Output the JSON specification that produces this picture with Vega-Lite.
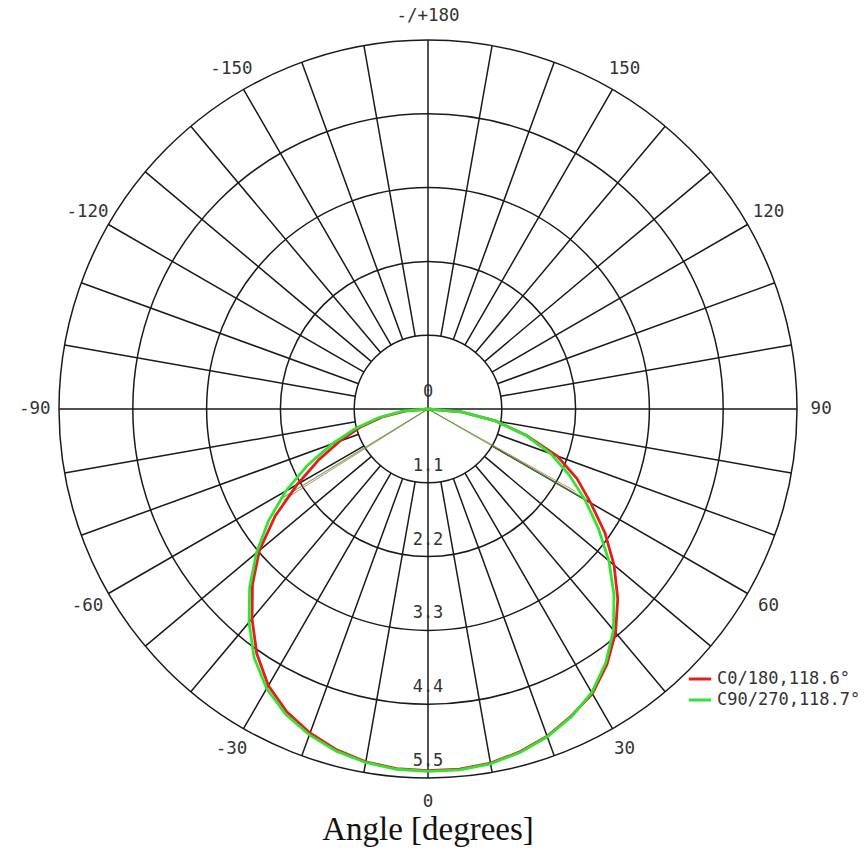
{
  "$schema": "https://vega.github.io/schema/vega-lite/v6.json",
  "width": 738,
  "height": 738,
  "autosize": {"type": "none"},
  "padding": {"left": 59, "top": 40, "right": 69, "bottom": 80},
  "background": "white",
  "config": {"view": {"stroke": null}},
  "title": {"text": "Angle [degrees]", "orient": "bottom", "font": "Liberation Serif", "fontSize": 33, "fontWeight": "normal", "color": "#111111", "offset": 3, "anchor": "middle"},
  "datasets": {
    "rings": [{"v": 1.1}, {"v": 2.2}, {"v": 3.3}, {"v": 4.4}, {"v": 5.5}],
    "ringlabels": [{"v": 0, "label": "0"}, {"v": 1.1, "label": "1.1"}, {"v": 2.2, "label": "2.2"}, {"v": 3.3, "label": "3.3"}, {"v": 4.4, "label": "4.4"}, {"v": 5.5, "label": "5.5"}],
    "spokes": [{"a": -170}, {"a": -160}, {"a": -150}, {"a": -140}, {"a": -130}, {"a": -120}, {"a": -110}, {"a": -100}, {"a": -80}, {"a": -70}, {"a": -60}, {"a": -50}, {"a": -40}, {"a": -30}, {"a": -20}, {"a": -10}, {"a": 10}, {"a": 20}, {"a": 30}, {"a": 40}, {"a": 50}, {"a": 60}, {"a": 70}, {"a": 80}, {"a": 100}, {"a": 110}, {"a": 120}, {"a": 130}, {"a": 140}, {"a": 150}, {"a": 160}, {"a": 170}],
    "diameters": [{"a": 0}, {"a": 90}, {"a": 180}, {"a": -90}],
    "anglelabels": [{"a": 0, "label": "0"}, {"a": 30, "label": "30"}, {"a": 60, "label": "60"}, {"a": 90, "label": "90"}, {"a": 120, "label": "120"}, {"a": 150, "label": "150"}, {"a": 180, "label": "-/+180"}, {"a": -150, "label": "-150"}, {"a": -120, "label": "-120"}, {"a": -90, "label": "-90"}, {"a": -60, "label": "-60"}, {"a": -30, "label": "-30"}],
    "beams": [
      {"series": "C0/180,118.6°", "i": 0, "theta": -57.8, "r": 2.55},
      {"series": "C0/180,118.6°", "i": 1, "theta": 0, "r": 0},
      {"series": "C0/180,118.6°", "i": 2, "theta": 60.8, "r": 2.52},
      {"series": "C90/270,118.7°", "i": 0, "theta": -58.6, "r": 2.58},
      {"series": "C90/270,118.7°", "i": 1, "theta": 0, "r": 0},
      {"series": "C90/270,118.7°", "i": 2, "theta": 60.1, "r": 2.68}
    ],
    "curves": [
      {"series": "C0/180,118.6°", "theta": -90, "r": 0},
      {"series": "C0/180,118.6°", "theta": -85, "r": 0.35},
      {"series": "C0/180,118.6°", "theta": -80, "r": 0.70},
      {"series": "C0/180,118.6°", "theta": -75, "r": 1.05},
      {"series": "C0/180,118.6°", "theta": -70, "r": 1.40},
      {"series": "C0/180,118.6°", "theta": -65, "r": 1.80},
      {"series": "C0/180,118.6°", "theta": -60, "r": 2.25},
      {"series": "C0/180,118.6°", "theta": -55, "r": 2.78},
      {"series": "C0/180,118.6°", "theta": -50, "r": 3.28},
      {"series": "C0/180,118.6°", "theta": -45, "r": 3.70},
      {"series": "C0/180,118.6°", "theta": -40, "r": 4.08},
      {"series": "C0/180,118.6°", "theta": -35, "r": 4.45},
      {"series": "C0/180,118.6°", "theta": -30, "r": 4.76},
      {"series": "C0/180,118.6°", "theta": -25, "r": 4.98},
      {"series": "C0/180,118.6°", "theta": -20, "r": 5.14},
      {"series": "C0/180,118.6°", "theta": -15, "r": 5.26},
      {"series": "C0/180,118.6°", "theta": -10, "r": 5.34},
      {"series": "C0/180,118.6°", "theta": -5, "r": 5.38},
      {"series": "C0/180,118.6°", "theta": 0, "r": 5.39},
      {"series": "C0/180,118.6°", "theta": 5, "r": 5.39},
      {"series": "C0/180,118.6°", "theta": 10, "r": 5.36},
      {"series": "C0/180,118.6°", "theta": 15, "r": 5.29},
      {"series": "C0/180,118.6°", "theta": 20, "r": 5.19},
      {"series": "C0/180,118.6°", "theta": 25, "r": 5.05},
      {"series": "C0/180,118.6°", "theta": 30, "r": 4.90},
      {"series": "C0/180,118.6°", "theta": 35, "r": 4.65},
      {"series": "C0/180,118.6°", "theta": 40, "r": 4.35},
      {"series": "C0/180,118.6°", "theta": 45, "r": 4.00},
      {"series": "C0/180,118.6°", "theta": 50, "r": 3.62},
      {"series": "C0/180,118.6°", "theta": 55, "r": 3.22},
      {"series": "C0/180,118.6°", "theta": 60, "r": 2.80},
      {"series": "C0/180,118.6°", "theta": 65, "r": 2.45},
      {"series": "C0/180,118.6°", "theta": 70, "r": 2.05},
      {"series": "C0/180,118.6°", "theta": 75, "r": 1.52},
      {"series": "C0/180,118.6°", "theta": 80, "r": 1.02},
      {"series": "C0/180,118.6°", "theta": 85, "r": 0.50},
      {"series": "C0/180,118.6°", "theta": 90, "r": 0},
      {"series": "C90/270,118.7°", "theta": -90, "r": 0},
      {"series": "C90/270,118.7°", "theta": -85, "r": 0.38},
      {"series": "C90/270,118.7°", "theta": -80, "r": 0.75},
      {"series": "C90/270,118.7°", "theta": -75, "r": 1.12},
      {"series": "C90/270,118.7°", "theta": -70, "r": 1.52},
      {"series": "C90/270,118.7°", "theta": -65, "r": 1.98},
      {"series": "C90/270,118.7°", "theta": -60, "r": 2.45},
      {"series": "C90/270,118.7°", "theta": -55, "r": 2.90},
      {"series": "C90/270,118.7°", "theta": -50, "r": 3.34},
      {"series": "C90/270,118.7°", "theta": -45, "r": 3.76},
      {"series": "C90/270,118.7°", "theta": -40, "r": 4.15},
      {"series": "C90/270,118.7°", "theta": -35, "r": 4.52},
      {"series": "C90/270,118.7°", "theta": -30, "r": 4.81},
      {"series": "C90/270,118.7°", "theta": -25, "r": 5.02},
      {"series": "C90/270,118.7°", "theta": -20, "r": 5.17},
      {"series": "C90/270,118.7°", "theta": -15, "r": 5.28},
      {"series": "C90/270,118.7°", "theta": -10, "r": 5.35},
      {"series": "C90/270,118.7°", "theta": -5, "r": 5.39},
      {"series": "C90/270,118.7°", "theta": 0, "r": 5.40},
      {"series": "C90/270,118.7°", "theta": 5, "r": 5.40},
      {"series": "C90/270,118.7°", "theta": 10, "r": 5.37},
      {"series": "C90/270,118.7°", "theta": 15, "r": 5.30},
      {"series": "C90/270,118.7°", "theta": 20, "r": 5.20},
      {"series": "C90/270,118.7°", "theta": 25, "r": 5.06},
      {"series": "C90/270,118.7°", "theta": 30, "r": 4.88},
      {"series": "C90/270,118.7°", "theta": 35, "r": 4.62},
      {"series": "C90/270,118.7°", "theta": 40, "r": 4.30},
      {"series": "C90/270,118.7°", "theta": 45, "r": 3.92},
      {"series": "C90/270,118.7°", "theta": 50, "r": 3.52},
      {"series": "C90/270,118.7°", "theta": 55, "r": 3.10},
      {"series": "C90/270,118.7°", "theta": 60, "r": 2.70},
      {"series": "C90/270,118.7°", "theta": 65, "r": 2.32},
      {"series": "C90/270,118.7°", "theta": 70, "r": 1.95},
      {"series": "C90/270,118.7°", "theta": 75, "r": 1.50},
      {"series": "C90/270,118.7°", "theta": 80, "r": 1.02},
      {"series": "C90/270,118.7°", "theta": 85, "r": 0.52},
      {"series": "C90/270,118.7°", "theta": 90, "r": 0}
    ]
  },
  "layer": [
    {
      "data": {"name": "rings"},
      "mark": {"type": "arc", "fill": "white", "fillOpacity": 0, "stroke": "#1a1a1a", "strokeWidth": 1.5},
      "encoding": {
        "theta": {"datum": -180, "type": "quantitative", "scale": {"type": "linear", "domain": [-180, 180], "range": [6.283185307179586, 0], "zero": false, "nice": false}},
        "theta2": {"datum": 180},
        "radius": {"field": "v", "type": "quantitative", "stack": false, "scale": {"type": "linear", "domain": [0, 5.5], "range": [0, 369], "zero": true, "nice": false}}
      }
    },
    {
      "data": {"name": "spokes"},
      "mark": {"type": "arc", "fill": "white", "fillOpacity": 0, "stroke": "#1a1a1a", "strokeWidth": 1.5},
      "encoding": {
        "theta": {"field": "a", "type": "quantitative", "stack": false, "scale": {"type": "linear", "domain": [-180, 180], "range": [6.283185307179586, 0], "zero": false, "nice": false}},
        "theta2": {"field": "a"},
        "radius": {"datum": 5.5, "type": "quantitative", "scale": {"type": "linear", "domain": [0, 5.5], "range": [0, 369], "zero": true, "nice": false}},
        "radius2": {"datum": 1.1}
      }
    },
    {
      "data": {"name": "diameters"},
      "mark": {"type": "arc", "fill": "white", "fillOpacity": 0, "stroke": "#1a1a1a", "strokeWidth": 1.5},
      "encoding": {
        "theta": {"field": "a", "type": "quantitative", "stack": false, "scale": {"type": "linear", "domain": [-180, 180], "range": [6.283185307179586, 0], "zero": false, "nice": false}},
        "theta2": {"field": "a"},
        "radius": {"datum": 5.5, "type": "quantitative", "scale": {"type": "linear", "domain": [0, 5.5], "range": [0, 369], "zero": true, "nice": false}},
        "radius2": {"datum": 0}
      }
    },
    {
      "data": {"name": "ringlabels"},
      "mark": {"type": "text", "font": "DejaVu Sans Mono", "fontSize": 17, "color": "#333333", "align": "center", "baseline": "middle", "dy": -17},
      "encoding": {
        "theta": {"datum": 0, "type": "quantitative", "scale": {"type": "linear", "domain": [-180, 180], "range": [6.283185307179586, 0], "zero": false, "nice": false}},
        "radius": {"field": "v", "type": "quantitative", "stack": false, "scale": {"type": "linear", "domain": [0, 5.5], "range": [0, 369], "zero": true, "nice": false}},
        "text": {"field": "label"}
      }
    },
    {
      "data": {"name": "anglelabels"},
      "mark": {"type": "text", "font": "DejaVu Sans Mono", "fontSize": 17.5, "color": "#333333", "align": "center", "baseline": "middle"},
      "encoding": {
        "theta": {"field": "a", "type": "quantitative", "stack": false, "scale": {"type": "linear", "domain": [-180, 180], "range": [6.283185307179586, 0], "zero": false, "nice": false}},
        "radius": {"datum": 5.86, "type": "quantitative", "scale": {"type": "linear", "domain": [0, 5.5], "range": [0, 369], "zero": true, "nice": false}},
        "text": {"field": "label"}
      }
    },
    {
      "data": {"name": "beams"},
      "transform": [
        {"filter": "datum.series === 'C0/180,118.6°'"},
        {"calculate": "datum.r * sin(datum.theta * PI / 180)", "as": "x"},
        {"calculate": "-datum.r * cos(datum.theta * PI / 180)", "as": "y"}
      ],
      "mark": {"type": "line", "color": "#e8503a", "strokeWidth": 1, "opacity": 0.75},
      "encoding": {
        "x": {"field": "x", "type": "quantitative", "axis": null, "scale": {"domain": [-5.5, 5.5], "nice": false, "zero": false}},
        "y": {"field": "y", "type": "quantitative", "axis": null, "scale": {"domain": [-5.5, 5.5], "nice": false, "zero": false}},
        "order": {"field": "i", "type": "quantitative"}
      }
    },
    {
      "data": {"name": "beams"},
      "transform": [
        {"filter": "datum.series === 'C90/270,118.7°'"},
        {"calculate": "datum.r * sin(datum.theta * PI / 180)", "as": "x"},
        {"calculate": "-datum.r * cos(datum.theta * PI / 180)", "as": "y"}
      ],
      "mark": {"type": "line", "color": "#3aa83a", "strokeWidth": 1.2, "opacity": 0.8},
      "encoding": {
        "x": {"field": "x", "type": "quantitative", "axis": null, "scale": {"domain": [-5.5, 5.5], "nice": false, "zero": false}},
        "y": {"field": "y", "type": "quantitative", "axis": null, "scale": {"domain": [-5.5, 5.5], "nice": false, "zero": false}},
        "order": {"field": "i", "type": "quantitative"}
      }
    },
    {
      "data": {"name": "curves"},
      "transform": [
        {"calculate": "datum.r * sin(datum.theta * PI / 180)", "as": "x"},
        {"calculate": "-datum.r * cos(datum.theta * PI / 180)", "as": "y"}
      ],
      "mark": {"type": "line", "strokeWidth": 2.8},
      "encoding": {
        "x": {"field": "x", "type": "quantitative", "axis": null, "scale": {"domain": [-5.5, 5.5], "nice": false, "zero": false}},
        "y": {"field": "y", "type": "quantitative", "axis": null, "scale": {"domain": [-5.5, 5.5], "nice": false, "zero": false}},
        "order": {"field": "theta", "type": "quantitative"},
        "color": {
          "field": "series", "type": "nominal",
          "scale": {"domain": ["C0/180,118.6°", "C90/270,118.7°"], "range": ["#e41e1e", "#33e333"]},
          "legend": {"orient": "none", "legendX": 628, "legendY": 626, "title": null, "symbolType": "stroke", "symbolStrokeWidth": 3, "symbolSize": 500, "labelFont": "DejaVu Sans Mono", "labelFontSize": 17, "labelColor": "#333333", "padding": 0, "rowPadding": 0, "labelOffset": 4}
        }
      }
    }
  ]
}
